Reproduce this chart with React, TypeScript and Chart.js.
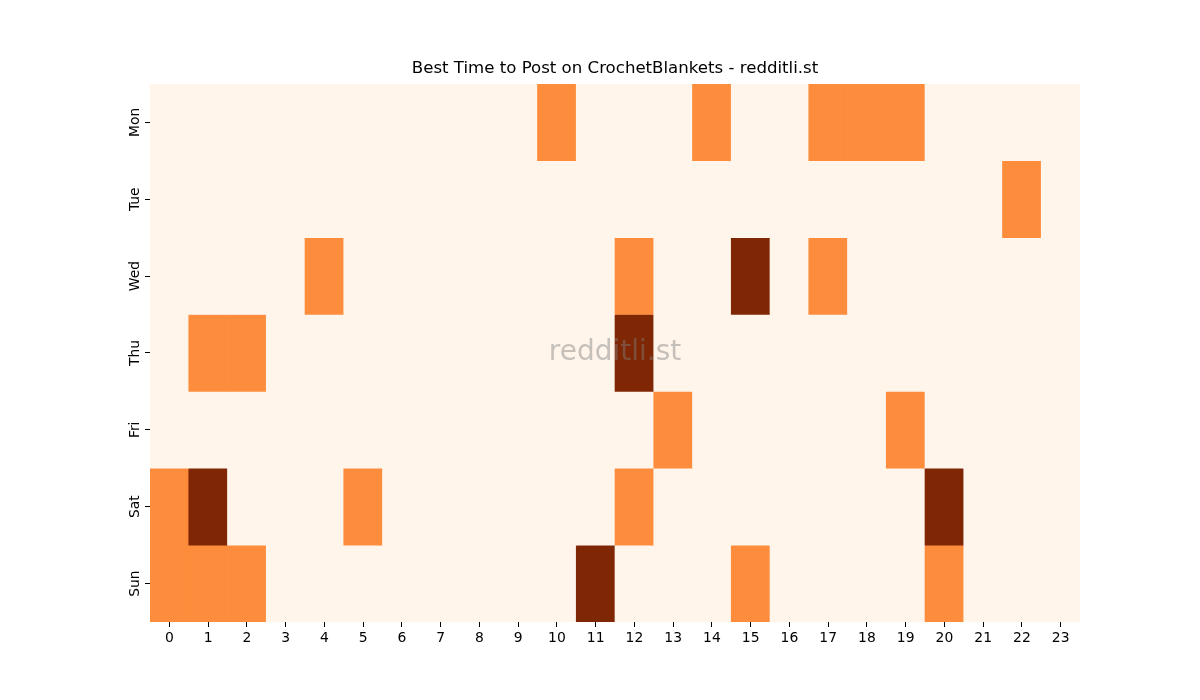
import React, { useEffect, useRef } from "react";
import { Chart, registerables } from "chart.js";

Chart.register(...registerables);

const days = ["Mon", "Tue", "Wed", "Thu", "Fri", "Sat", "Sun"];
const hours = Array.from({ length: 24 }, (_, i) => String(i));
const monValues = [0,0,0,0,0,0,0,0,0,0,1,0,0,0,1,0,0,1,1,1,0,0,0,0];
const tueValues = [0,0,0,0,0,0,0,0,0,0,0,0,0,0,0,0,0,0,0,0,0,0,1,0];
const wedValues = [0,0,0,0,1,0,0,0,0,0,0,0,1,0,0,2,0,1,0,0,0,0,0,0];
const thuValues = [0,1,1,0,0,0,0,0,0,0,0,0,2,0,0,0,0,0,0,0,0,0,0,0];
const friValues = [0,0,0,0,0,0,0,0,0,0,0,0,0,1,0,0,0,0,0,1,0,0,0,0];
const satValues = [1,2,0,0,0,1,0,0,0,0,0,0,1,0,0,0,0,0,0,0,2,0,0,0];
const sunValues = [1,1,1,0,0,0,0,0,0,0,0,2,0,0,0,1,0,0,0,0,1,0,0,0];
const rows = [monValues, tueValues, wedValues, thuValues, friValues, satValues, sunValues];
const palette = ["#fff5eb", "#fd8d3c", "#7f2704"];
const titleText = "Best Time to Post on CrochetBlankets - redditli.st";
const watermark = "redditli.st";

const FONT = "'DejaVu Sans', sans-serif";

export default function App() {
  const ref = useRef<HTMLCanvasElement | null>(null);
  useEffect(() => {
    document.body.style.margin = "0";
    const canvas = ref.current!;
    const extrasPlugin = {
      id: "extras",
      afterDatasetsDraw(chart: any) {
        const { ctx, chartArea } = chart;
        ctx.save();
        ctx.font = `28px ${FONT}`;
        ctx.fillStyle = "rgba(128,128,128,0.45)";
        ctx.textAlign = "center";
        ctx.textBaseline = "middle";
        ctx.fillText(watermark, (chartArea.left + chartArea.right) / 2, (chartArea.top + chartArea.bottom) / 2);
        ctx.restore();
      },
      afterDraw(chart: any) {
        const { ctx, chartArea } = chart;
        const y = chart.scales.y;
        ctx.save();
        ctx.font = `13.9px ${FONT}`;
        ctx.fillStyle = "#000";
        ctx.textAlign = "center";
        ctx.textBaseline = "bottom";
        days.forEach((d, i) => {
          const py = y.getPixelForValue(i + 0.5);
          ctx.save();
          ctx.translate(chartArea.left - 8, py);
          ctx.rotate(-Math.PI / 2);
          ctx.fillText(d, 0, 0);
          ctx.restore();
        });
        ctx.restore();
      },
    };
    const chart = new Chart(canvas, {
      type: "bar",
      data: {
        labels: hours,
        datasets: rows.map((vals, r) => ({
          label: days[r],
          data: vals.map(() => [r, r + 1] as any),
          backgroundColor: vals.map((v) => palette[v]),
          borderWidth: 0,
          barPercentage: 1,
          categoryPercentage: 1,
          grouped: false,
        })) as any,
      },
      options: {
        responsive: false,
        animation: false,
        events: [],
        layout: { padding: { left: 100, right: 120, top: 49, bottom: 38 } },
        plugins: {
          legend: { display: false },
          tooltip: { enabled: false },
          title: {
            display: true,
            text: titleText,
            fullSize: false,
            color: "#000",
            font: { family: FONT, size: 16.6, weight: "normal" },
            padding: { top: 10, bottom: 5 },
          },
        },
        scales: {
          x: {
            type: "category",
            offset: true,
            grid: { offset: false, drawOnChartArea: false, drawTicks: true, tickLength: 5, color: "#000", tickWidth: 1 },
            border: { display: false },
            ticks: { color: "#000", font: { family: FONT, size: 13.9 }, maxRotation: 0, minRotation: 0, padding: 3, autoSkip: false },
            afterFit: (s: any) => { s.height = 40; },
          },
          y: {
            type: "linear",
            min: 0,
            max: 7,
            reverse: true,
            afterBuildTicks: (s: any) => { s.ticks = days.map((_, i) => ({ value: i + 0.5 })); },
            grid: { drawOnChartArea: false, drawTicks: true, tickLength: 5, color: "#000", tickWidth: 1 },
            border: { display: false },
            ticks: { display: false },
            afterFit: (s: any) => { s.width = 50; },
          },
        },
      },
      plugins: [extrasPlugin],
    });
    return () => chart.destroy();
  }, []);
  return <canvas ref={ref} width={1200} height={700} style={{ display: "block" }} />;
}
